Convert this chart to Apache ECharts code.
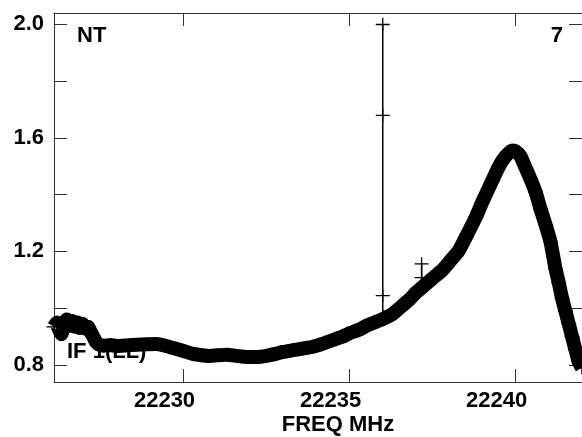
<!DOCTYPE html>
<html>
<head>
<meta charset="utf-8">
<script src="https://cdn.jsdelivr.net/npm/echarts@6/dist/echarts.min.js"></script>
<style>
  html, body { margin: 0; padding: 0; background: #fff; }
  #chart { width: 582px; height: 437px; }
</style>
</head>
<body>
<div id="chart"></div>
<script>
// ---- data ----
const freqs = [
  22226.10, 22226.18, 22226.25, 22226.32, 22226.40, 22226.48, 22226.56, 22226.64,
  22226.72, 22226.80, 22226.88, 22226.96, 22227.04, 22227.12, 22227.20, 22227.28,
  22227.36, 22227.45, 22227.60, 22227.80, 22228.00, 22228.30, 22228.60, 22228.90,
  22229.20, 22229.50, 22229.80, 22230.00, 22230.25, 22230.50, 22230.75, 22231.00,
  22231.30, 22231.60, 22231.90, 22232.20, 22232.50, 22232.80, 22233.00, 22233.30,
  22233.60, 22233.90, 22234.20, 22234.50, 22234.80, 22235.00, 22235.30, 22235.50,
  22235.80, 22236.00, 22236.30, 22236.50, 22236.80, 22237.00, 22237.30, 22237.50,
  22237.80, 22238.00, 22238.30, 22238.50, 22238.80, 22239.00, 22239.30, 22239.50,
  22239.70, 22239.90, 22240.00, 22240.15, 22240.30, 22240.45, 22240.60, 22240.75,
  22240.90, 22241.05, 22241.20, 22241.30, 22241.40, 22241.50, 22241.60, 22241.70,
  22241.80, 22241.90, 22242.00
];
const values = [
  0.935, 0.950, 0.925, 0.908, 0.945, 0.960, 0.938, 0.955,
  0.935, 0.950, 0.930, 0.945, 0.928, 0.935, 0.918, 0.900,
  0.882, 0.872, 0.868, 0.870, 0.867, 0.869, 0.871, 0.873,
  0.874, 0.866, 0.856, 0.849, 0.840, 0.835, 0.832, 0.834,
  0.836, 0.832, 0.828, 0.828, 0.832, 0.840, 0.846, 0.852,
  0.858, 0.864, 0.875, 0.888, 0.900, 0.912, 0.925, 0.938,
  0.952, 0.962, 0.980, 1.000, 1.030, 1.055, 1.085, 1.105,
  1.135, 1.162, 1.205, 1.250, 1.320, 1.375, 1.450, 1.500,
  1.535, 1.556, 1.553, 1.535, 1.495, 1.455, 1.410, 1.350,
  1.295, 1.235, 1.140, 1.090, 1.035, 0.990, 0.945, 0.900,
  0.855, 0.812, 0.790
];
// spikes (outlying channels)
const spike1Freq = 22236.0;
const spike1Values = [0.97, 2.0, 1.68, 1.045, 0.97];
const spike2Freq = 22237.17;
const spike2Values = [1.08, 1.157, 1.108];

const xMin = 22226.1, xMax = 22242.0;
const yMin = 0.74, yMax = 2.04;
const xTickValues = [22230, 22235, 22240];
const yTickValues = [0.8, 1.0, 1.2, 1.4, 1.6, 1.8, 2.0];
const yLabelValues = [0.8, 1.2, 1.6, 2.0];

const xAxisTitle = 'FREQ MHz';
const topLeftText = 'NT';
const topRightText = '7';
const bottomLeftText = 'IF 1(LL)';

// ---- chart ----
const FONT = '"Liberation Sans", Arial, Helvetica, sans-serif';
const lineColor = '#333';
const crossPath = 'path://M0,6L14,6L14,7.3L0,7.3ZM6.35,0L7.65,0L7.65,13L6.35,13Z';

function mkX(pos, labels) {
  return {
    type: 'value', position: pos, min: xMin, max: xMax,
    axisLine: { show: true, onZero: false, lineStyle: { color: lineColor, width: 1 } },
    axisTick: { show: true, inside: true, length: 13, customValues: xTickValues,
                lineStyle: { color: lineColor, width: 1 } },
    axisLabel: labels ? {
      show: true, customValues: xTickValues, margin: 8,
      color: '#000', fontFamily: FONT, fontWeight: 'bold', fontSize: 22,
      padding: [0, 38, 0, 0],
      formatter: v => String(Math.round(v))
    } : { show: false },
    splitLine: { show: false }
  };
}
function mkY(pos, labels) {
  return {
    type: 'value', position: pos, min: yMin, max: yMax,
    axisLine: { show: true, onZero: false, lineStyle: { color: lineColor, width: 1 } },
    axisTick: { show: true, inside: true, length: 13, customValues: yTickValues,
                lineStyle: { color: lineColor, width: 1 } },
    axisLabel: labels ? {
      show: true, customValues: yLabelValues, margin: 10,
      color: '#000', fontFamily: FONT, fontWeight: 'bold', fontSize: 22,
      formatter: v => v.toFixed(1)
    } : { show: false },
    splitLine: { show: false }
  };
}

const chart = echarts.init(document.getElementById('chart'), null, { renderer: 'canvas' });
chart.setOption({
  animation: false,
  backgroundColor: '#fff',
  grid: { left: 54, top: 13, width: 529, height: 369, containLabel: false },
  xAxis: [mkX('bottom', true), mkX('top', false)],
  yAxis: [mkY('left', true), mkY('right', false)],
  graphic: [
    { type: 'text', left: 77, top: 25, z: 0,
      style: { text: topLeftText, fontFamily: FONT, fontWeight: 'bold', fontSize: 22, fill: '#000' } },
    { type: 'text', right: 19, top: 25, z: 0,
      style: { text: topRightText, fontFamily: FONT, fontWeight: 'bold', fontSize: 22, fill: '#000' } },
    { type: 'text', left: 67, top: 341, z: 0,
      style: { text: bottomLeftText, fontFamily: FONT, fontWeight: 'bold', fontSize: 22, fill: '#000' } },
    { type: 'text', x: 338, y: 414, z: 0,
      style: { text: xAxisTitle, align: 'center', fontFamily: FONT, fontWeight: 'bold', fontSize: 22, fill: '#000' } }
  ],
  series: [
    {
      type: 'line', z: 5,
      data: freqs.map((f, i) => [f, values[i]]),
      lineStyle: { color: '#000', width: 14, join: 'round', cap: 'butt' },
      itemStyle: { color: '#000' },
      showSymbol: true, showAllSymbol: true,
      symbol: crossPath, symbolSize: [15, 13],
      smooth: 0.15
    },
    {
      type: 'line', z: 4,
      data: spike1Values.map(v => [spike1Freq, v]),
      lineStyle: { color: '#000', width: 1.5 },
      itemStyle: { color: '#000' },
      showSymbol: true, showAllSymbol: true,
      symbol: crossPath, symbolSize: [14, 13]
    },
    {
      type: 'line', z: 4,
      data: spike2Values.map(v => [spike2Freq, v]),
      lineStyle: { color: '#000', width: 1.5 },
      itemStyle: { color: '#000' },
      showSymbol: true, showAllSymbol: true,
      symbol: crossPath, symbolSize: [14, 13]
    }
  ]
});
</script>
</body>
</html>
